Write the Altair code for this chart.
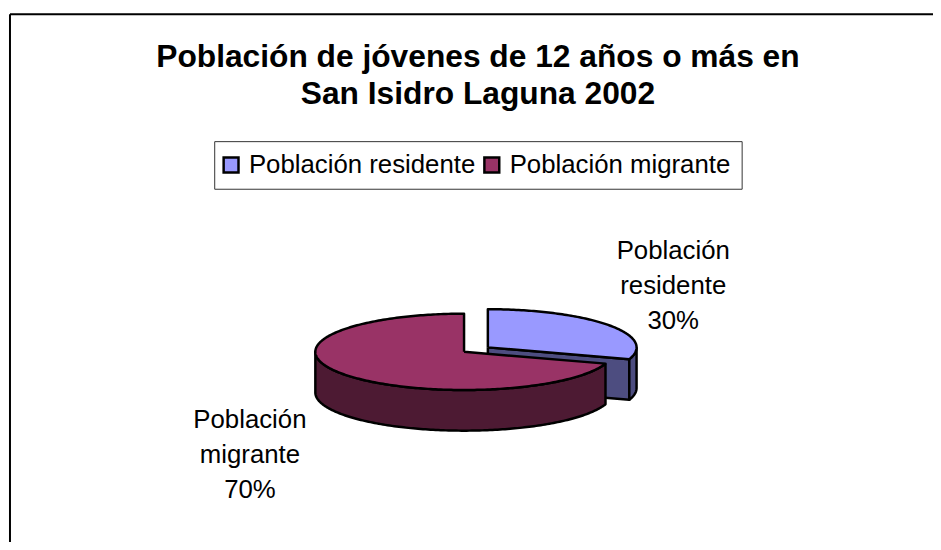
import math
import altair as alt
import pandas as pd

titulo = ["Población de jóvenes de 12 años o más en", "San Isidro Laguna 2002"]
categorias = ["Población residente", "Población migrante"]
porcentajes = [30, 70]
color_cara = ["#9999FF", "#993366"]
color_lado = ["#4D4D80", "#4D1A33"]

W, H = 933, 534
FUENTE = "Liberation Sans"
RX, RY, PROF = 150, 38.5, 41
centros = [(492, 348), (468, 352.5)]


def punto(c, grados, dy=0):
    a = math.radians(grados)
    return c[0] + RX * math.sin(a), c[1] - RY * math.cos(a) + dy


def arco(c, a0, a1, dy=0):
    n = max(2, int(abs(a1 - a0)))
    return [punto(c, a0 + (a1 - a0) * i / n, dy) for i in range(n + 1)]


def poligono(pts, serie):
    pts = pts + [pts[0]]
    return [{"x": x, "y": y, "orden": i, "serie": serie} for i, (x, y) in enumerate(pts)]


fin = porcentajes[0] * 3.6
res, mig = centros

cara_res = poligono([res] + arco(res, 0, fin), categorias[0])
cara_mig = poligono([mig] + arco(mig, fin, 360), categorias[1])
lado_res_int = poligono(
    [res, punto(res, fin), punto(res, fin, PROF), (res[0], res[1] + PROF)], categorias[0]
)
lado_res_ext = poligono(arco(res, 90, fin) + arco(res, fin, 90, PROF), categorias[0])
lado_mig = poligono(arco(mig, fin, 270) + arco(mig, 270, fin, PROF), categorias[1])

X = alt.X("x:Q", scale=alt.Scale(domain=[8, 8 + W], range=[0, W], nice=False, zero=False), axis=None)
Y = alt.Y("y:Q", scale=alt.Scale(domain=[8, 8 + H], range=[0, H], nice=False, zero=False), axis=None)
ORDEN = alt.Order("orden:Q")


def lado(datos, color):
    return (
        alt.Chart(pd.DataFrame(datos))
        .mark_line(fill=color, stroke="black", strokeWidth=2.5, strokeJoin="round", clip=False)
        .encode(x=X, y=Y, order=ORDEN)
    )


relleno = alt.Fill(
    "serie:N",
    scale=alt.Scale(domain=categorias, range=color_cara),
    sort=categorias,
    legend=alt.Legend(
        title=None,
        orient="none",
        direction="horizontal",
        legendX=208,
        legendY=132,
        symbolType="square",
        symbolSize=225,
        symbolStrokeColor="black",
        symbolStrokeWidth=2.5,
        symbolOpacity=1,
        symbolOffset=-7,
        labelFont=FUENTE,
        labelFontSize=26,
        labelColor="black",
        labelOffset=5,
        labelLimit=400,
        columnPadding=3,
        padding=11,
        fillColor="white",
        strokeColor="#333333",
    ),
)


def cara(datos):
    return (
        alt.Chart(pd.DataFrame(datos))
        .mark_line(stroke="black", strokeWidth=2.5, strokeJoin="round", clip=False)
        .encode(x=X, y=Y, order=ORDEN, fill=relleno)
    )


marco = alt.Chart(
    pd.DataFrame({"x": [10, 10], "y": [12, 12], "x2": [10, 941], "y2": [550, 12]})
).mark_rule(color="black", strokeWidth=2).encode(x=X, y=Y, x2="x2:Q", y2="y2:Q")

etiquetas = alt.Chart(
    pd.DataFrame(
        {
            "x": [679, 252],
            "y": [251, 421.5],
            "texto": [
                "\n".join(c.split(" ") + [f"{p}%"]) for c, p in zip(categorias, porcentajes)
            ],
        }
    )
).mark_text(
    font=FUENTE, fontSize=26, color="black", lineBreak="\n", lineHeight=35, align="center", baseline="middle"
).encode(x=X, y=Y, text="texto:N")

chart = alt.layer(
    marco,
    lado(lado_res_int, color_lado[0]),
    lado(lado_res_ext, color_lado[0]),
    cara(cara_res),
    lado(lado_mig, color_lado[1]),
    cara(cara_mig),
    etiquetas,
).properties(
    width=W,
    height=H,
    padding=0,
    background="white",
    autosize=alt.AutoSizeParams(type="none"),
    title=alt.TitleParams(
        text=titulo,
        font=FUENTE,
        fontSize=32,
        fontWeight="bold",
        color="black",
        anchor="start",
        align="center",
        lineHeight=38,
        dx=474,
        dy=102,
        offset=0,
        frame="group",
    ),
).configure_view(stroke=None)

chart.save("out.html", embed_options={"renderer": "svg", "actions": False})
